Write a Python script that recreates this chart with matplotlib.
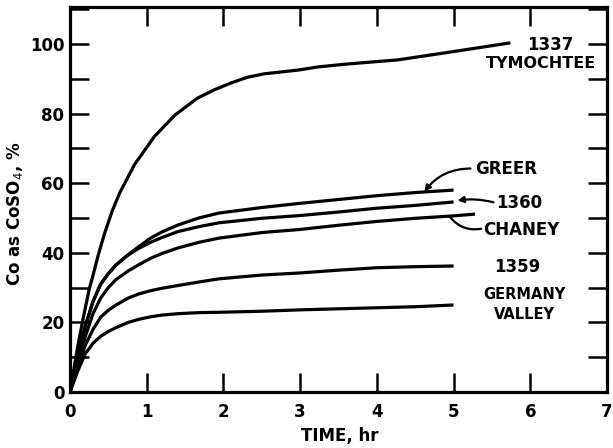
import matplotlib
matplotlib.use("Agg")
import matplotlib.pyplot as plt
from matplotlib.ticker import MultipleLocator

# ---- data ----
t_1337 = [0, 0.10, 0.17, 0.25, 0.30, 0.37, 0.45, 0.55, 0.65, 0.84, 1.10, 1.37,
          1.66, 1.88, 2.09, 2.31, 2.53, 2.98, 3.24, 3.60, 4.27, 5.00, 5.74]
y_1337 = [0, 13, 21, 29.5, 33.5, 39.5, 45.5, 52, 57.3, 65.3, 73.4, 79.6,
          84.4, 86.8, 88.7, 90.4, 91.4, 92.5, 93.4, 94.2, 95.4, 97.8, 100.3]

t_common = [0, 0.1, 0.2, 0.3, 0.4, 0.5, 0.6, 0.76, 0.9, 1.05, 1.2, 1.41, 1.68,
            1.94, 2.5, 3.0, 3.5, 4.0, 4.5, 5.0]
y_greer = [0, 10, 19, 26, 31, 34, 36.5, 39.5, 41.8, 44.2, 46.0, 48.0, 50.0,
           51.4, 53.0, 54.2, 55.3, 56.4, 57.3, 58.0]
y_1360 = [0, 10, 19, 26, 31, 34, 36.5, 39.4, 41.3, 43.0, 44.4, 46.1, 47.5,
          48.6, 49.9, 50.7, 51.7, 52.8, 53.6, 54.6]
t_chaney = [0, 0.1, 0.2, 0.3, 0.4, 0.5, 0.6, 0.76, 0.9, 1.05, 1.2, 1.41, 1.68,
            1.94, 2.5, 3.0, 3.5, 4.0, 4.5, 5.0, 5.28]
y_chaney = [0, 8.5, 16, 22.5, 27, 30, 32.3, 34.8, 36.6, 38.4, 39.8, 41.4, 43.0,
            44.2, 45.8, 46.7, 47.9, 49.0, 49.9, 50.6, 51.1]
y_1359 = [0, 7, 13.5, 18, 21.5, 23.5, 25, 27.0, 28.2, 29.1, 29.8, 30.6, 31.6,
          32.5, 33.6, 34.2, 35.0, 35.7, 36.0, 36.2]
y_gv = [0, 6, 11, 14, 16, 17.4, 18.5, 20.0, 20.9, 21.6, 22.1, 22.5, 22.8,
        22.9, 23.2, 23.6, 23.9, 24.2, 24.5, 25.0]

x_ticks = [0, 1, 2, 3, 4, 5, 6, 7]
y_ticks = [0, 20, 40, 60, 80, 100]

BOLD = dict(fontweight="bold", family="DejaVu Sans")

fig = plt.figure(figsize=(6.13, 4.48), dpi=100)
ax = fig.add_axes([70/613, 1-392/448, (607-70)/613, (392-7)/448])

lw = 2.3
for t, y in [(t_1337, y_1337), (t_common, y_greer), (t_common, y_1360),
             (t_chaney, y_chaney), (t_common, y_1359), (t_common, y_gv)]:
    ax.plot(t, y, color="black", lw=lw, solid_capstyle="butt",
            solid_joinstyle="round")

ax.set_xlim(0, 7)
ax.set_ylim(0, 110.6)
ax.set_xticks(x_ticks)
ax.set_yticks(y_ticks)
ax.yaxis.set_minor_locator(MultipleLocator(10))
ax.tick_params(axis="x", which="major", direction="in", length=14, width=1.8,
               top=True, bottom=True, pad=8, labelsize=12)
ax.tick_params(axis="y", which="major", direction="in", length=14, width=1.8,
               left=True, right=True, pad=4, labelsize=12)
ax.tick_params(axis="y", which="minor", direction="in", length=14, width=1.8,
               left=True, right=True)
for lab in ax.get_xticklabels() + ax.get_yticklabels():
    lab.set_fontweight("bold")
for s in ax.spines.values():
    s.set_linewidth(2.3)

fs = 12
ax.text(6.26, 99.7, "1337", ha="center", va="center", fontsize=fs, **BOLD)
ax.text(6.14, 94.5, "TYMOCHTEE", ha="center", va="center", fontsize=11.5, **BOLD)
ax.text(5.68, 64.0, "GREER", ha="center", va="center", fontsize=fs, **BOLD)
ax.text(5.85, 54.3, "1360", ha="center", va="center", fontsize=fs, **BOLD)
ax.text(5.88, 46.6, "CHANEY", ha="center", va="center", fontsize=fs, **BOLD)
ax.text(5.83, 36.0, "1359", ha="center", va="center", fontsize=fs, **BOLD)
ax.text(5.92, 27.9, "GERMANY", ha="center", va="center", fontsize=10.5, **BOLD)
ax.text(5.92, 22.4, "VALLEY", ha="center", va="center", fontsize=10.5, **BOLD)

arrow = dict(arrowstyle="-|>", color="black", lw=1.6, mutation_scale=9,
             shrinkA=0, shrinkB=0)
ax.annotate("", xy=(4.62, 57.5), xytext=(5.22, 64.2),
            arrowprops=dict(arrow, connectionstyle="arc3,rad=0.25"))
ax.annotate("", xy=(5.05, 55.0), xytext=(5.52, 54.5),
            arrowprops=dict(arrow, connectionstyle="arc3,rad=0.1"))
ax.annotate("", xy=(4.95, 50.4), xytext=(5.36, 46.9),
            arrowprops=dict(arrowstyle="-", color="black", lw=1.6,
                            connectionstyle="arc3,rad=-0.3", shrinkA=0, shrinkB=0))

fig.text(340/613, 1-436/448, "TIME, hr", ha="center", va="center",
         fontsize=12, **BOLD)
fig.text(15/613, 1-214/448, "Co as CoSO$_4$, %", ha="center", va="center",
         rotation=90, fontsize=12, **BOLD)

fig.savefig("out.png", dpi=100)
